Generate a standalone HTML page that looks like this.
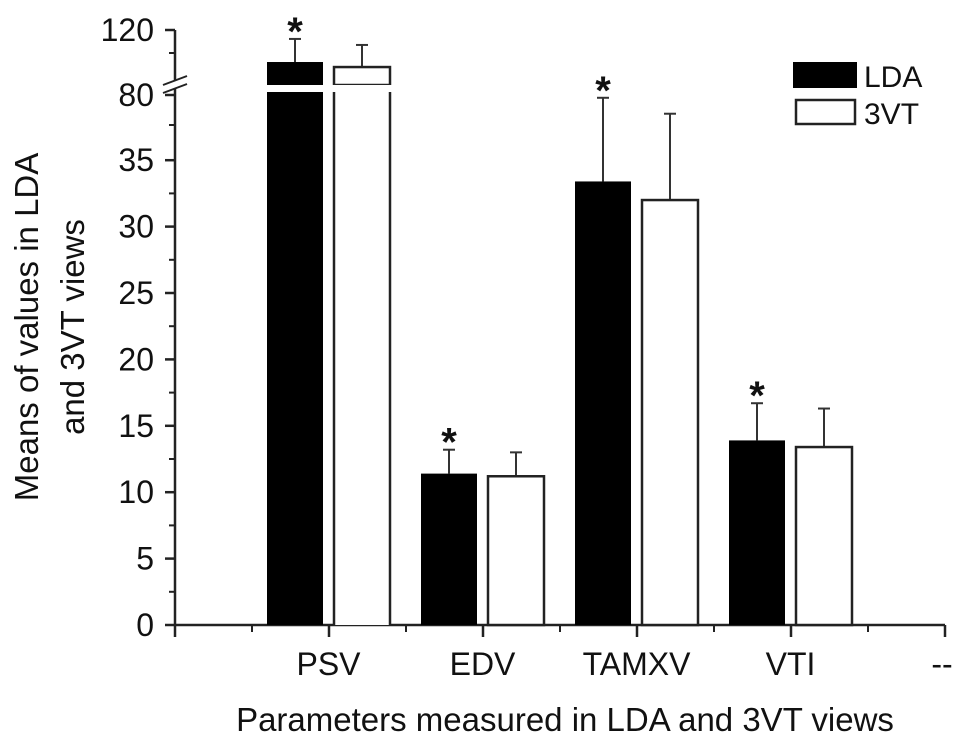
<!DOCTYPE html>
<html><head><meta charset="utf-8"><style>
body{margin:0;background:#fff;}
svg text{font-family:"Liberation Sans",Arial,sans-serif;fill:#111;}
</style></head><body>
<svg id="chart" width="969" height="745" viewBox="0 0 969 745">
<g id="g"></g>
</svg>
<script>
const categories = ["PSV","EDV","TAMXV","VTI"];
const ldaValues = [100.3, 11.4, 33.4, 13.9];
const ldaErrors = [114.5, 13.2, 39.7, 16.7];
const vtValues = [97.2, 11.2, 32.0, 13.4];
const vtErrors = [110.8, 13.0, 38.5, 16.3];
const lowerTicks = [0,5,10,15,20,25,30,35];
const upperTicks = [80,120];
const ns = "http://www.w3.org/2000/svg";
const g = document.getElementById('g');
function mk(tag, attrs, parent){const e=document.createElementNS(ns,tag);for(const k in attrs)e.setAttribute(k,attrs[k]);(parent||g).appendChild(e);return e;}
const X0 = 175, Y0 = 625;
function y(v){ if(v<=40) return Y0 - v*13.28; return 95 - (v-80)*1.625; }
function yv(v){ return v>=80 ? 95-(v-80)*1.625 : Y0 - v*13.28; }
const groupStart = 267, groupStep = 154, barW = 56, gap = 11;
function xCenter(i){ return groupStart + i*groupStep + barW + gap/2; }
const FS = 32;

let e;
e=mk('line',{x1:X0,y1:30,x2:X0,y2:80,stroke:'#222','stroke-width':2.5});

e=mk('line',{x1:X0,y1:88,x2:X0,y2:Y0,stroke:'#222','stroke-width':2.5});

mk('line',{x1:X0-12,y1:85,x2:X0+12,y2:76,stroke:'#222','stroke-width':2});
mk('line',{x1:X0-12,y1:93,x2:X0+12,y2:84,stroke:'#222','stroke-width':2});
mk('line',{x1:X0-10,y1:30,x2:X0,y2:30,stroke:'#222','stroke-width':2.5});
mk('line',{x1:X0-6,y1:53,x2:X0,y2:53,stroke:'#222','stroke-width':2});
mk('line',{x1:X0-6,y1:125,x2:X0,y2:125,stroke:'#222','stroke-width':2});
upperTicks.forEach(t=>{
  const yy = t===120?30:95;
  if(t!==120) mk('line',{x1:X0-10,y1:yy,x2:X0,y2:yy,stroke:'#222','stroke-width':2.5});
  const tx=mk('text',{x:X0-21,y:yy+11,'font-size':FS,'text-anchor':'end'});tx.textContent=t;
  
});
lowerTicks.forEach(t=>{
  const yy=y(t);
  mk('line',{x1:X0-10,y1:yy,x2:X0,y2:yy,stroke:'#222','stroke-width':2.5});
  if(t>0) mk('line',{x1:X0-6,y1:y(t-2.5),x2:X0,y2:y(t-2.5),stroke:'#222','stroke-width':2});
  const tx=mk('text',{x:X0-21,y:yy+11,'font-size':FS,'text-anchor':'end'});tx.textContent=t;
  
});
e=mk('line',{x1:X0,y1:Y0,x2:945,y2:Y0,stroke:'#222','stroke-width':2.5});

for(let i=0;i<=5;i++){
  const xx = X0 + i*154;
  mk('line',{x1:xx,y1:Y0,x2:xx,y2:Y0+12,stroke:'#222','stroke-width':2.5});
  if(i<5) mk('line',{x1:xx+77,y1:Y0,x2:xx+77,y2:Y0+7,stroke:'#222','stroke-width':2});
}
categories.forEach((c,i)=>{
  const tx=mk('text',{x:xCenter(i),y:675,'font-size':FS,'text-anchor':'middle'});tx.textContent=c;
  
});
e=mk('text',{x:942,y:675,'font-size':FS,'text-anchor':'middle'});e.textContent='--';
function bar(i,series,vals,errs){
  const xl = groupStart + i*groupStep + (series? barW+gap : 0);
  const v=vals[i], top=yv(v), et=yv(errs[i]);
  const cx = xl+barW/2;
  const el=mk('line',{x1:cx,y1:top,x2:cx,y2:et,stroke:'#333','stroke-width':2});
  
  mk('line',{x1:cx-6,y1:et,x2:cx+6,y2:et,stroke:'#333','stroke-width':2});
  const fill = series? '#fff':'#000';
  if(v>=80){
    const r1=mk('rect',{x:xl,y:top,width:barW,height:85-top,fill:fill,stroke:'#222','stroke-width':series?2.5:0});
    
    mk('rect',{x:xl,y:92,width:barW,height:Y0-92,fill:fill,stroke:'none'});
    if(series){ mk('line',{x1:xl,y1:92,x2:xl,y2:Y0,stroke:'#222','stroke-width':2.5}); mk('line',{x1:xl+barW,y1:92,x2:xl+barW,y2:Y0,stroke:'#222','stroke-width':2.5}); mk('rect',{x:xl-2,y:85,width:barW+4,height:7,fill:'#fff'}); }
  } else {
    const r=mk('rect',{x:xl,y:top,width:barW,height:Y0-top,fill:fill,stroke:'#222','stroke-width':series?2.5:0});
    
  }
  if(!series){
    const s=mk('text',{x:cx,y:et+6,'font-size':40,'font-weight':'bold','text-anchor':'middle'});s.textContent='*';
    
  }
}
categories.forEach((c,i)=>{bar(i,0,ldaValues,ldaErrors);bar(i,1,vtValues,vtErrors);});
e=mk('rect',{x:793,y:62,width:64,height:26,fill:'#000'});

e=mk('rect',{x:796,y:100,width:59,height:24,fill:'#fff',stroke:'#222','stroke-width':2.5});

e=mk('text',{x:864,y:87,'font-size':30});e.textContent='LDA';

e=mk('text',{x:864,y:124,'font-size':30});e.textContent='3VT';

e=mk('text',{x:0,y:0,'font-size':33,'text-anchor':'middle',transform:'translate(38,327) rotate(-90)'});e.textContent='Means of values in LDA';

e=mk('text',{x:0,y:0,'font-size':33,'text-anchor':'middle',transform:'translate(84,327) rotate(-90)'});e.textContent='and 3VT views';

e=mk('text',{x:565,y:731,'font-size':33,'text-anchor':'middle'});e.textContent='Parameters measured in LDA and 3VT views';

</script>
</body></html>
